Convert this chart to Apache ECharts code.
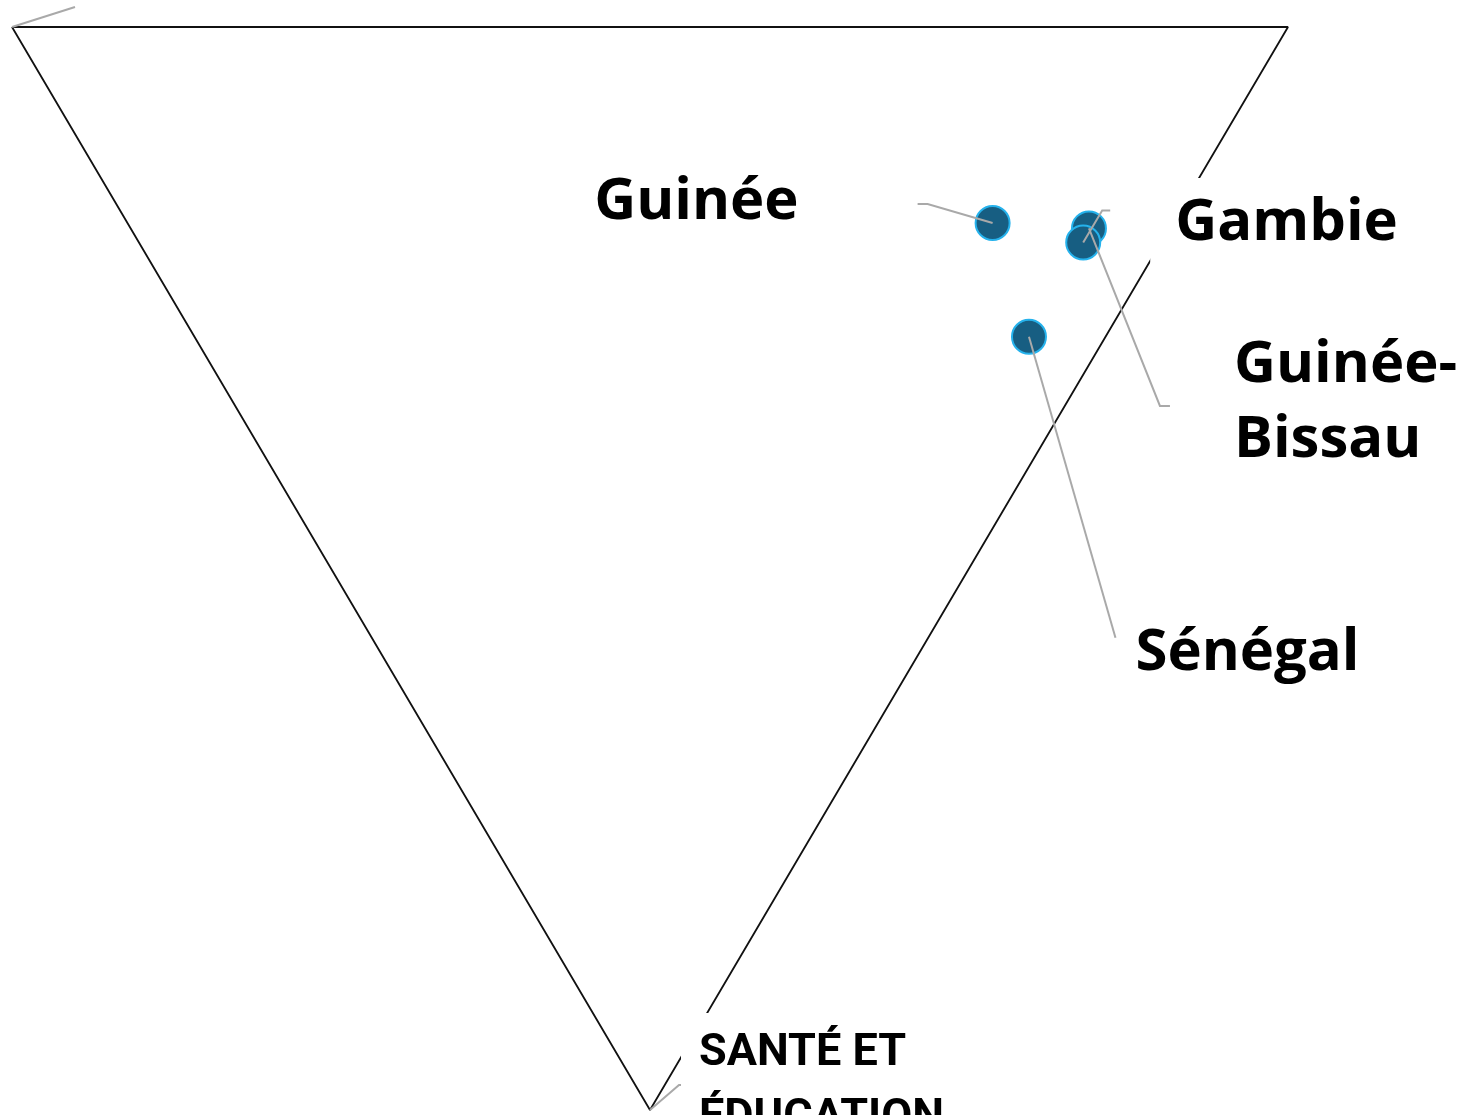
<!DOCTYPE html>
<html>
<head>
<meta charset="utf-8">
<script src="https://cdn.jsdelivr.net/npm/echarts@6/dist/echarts.min.js"></script>
<style>
  html, body { margin: 0; padding: 0; background: #fff; }
  #chart { width: 1470px; height: 1115px; }
</style>
</head>
<body>
<div id="chart"></div>
<script>
// ---- Data (ternary shares; component C = "SANTÉ ET ÉDUCATION") ----
const countries = ['Guinée', 'Guinée-Bissau', 'Gambie', 'Sénégal'];
const shareA = [0.141, 0.063, 0.061, 0.060];   // top-left vertex component
const shareB = [0.678, 0.751, 0.740, 0.654];   // top-right vertex component
const shareC = [0.181, 0.186, 0.199, 0.286];   // bottom vertex: Santé et Éducation

// Ternary vertices (pure components) and their labels (only the bottom one is visible)
const vertexA = [1, 0, 0];
const vertexB = [0, 1, 0];
const vertexC = [0, 0, 1];
const vertexNames = [null, null, 'SANTÉ ET\nÉDUCATION'];

// ---- Projection of ternary shares onto the plane ----
function toXY(a, b, c) {
  const s = a + b + c;
  return [(b + 0.5 * c) / s, 1 - c / s];
}

const vertices = [vertexA, vertexB, vertexC];
const triangle = [vertexA, vertexB, vertexC, vertexA].map(v => toXY(v[0], v[1], v[2]));
const points = countries.map((n, i) => toXY(shareA[i], shareB[i], shareC[i]).concat([i]));
const vertexPts = vertices.map((v, i) => toXY(v[0], v[1], v[2]).concat([i]));

// ---- Label layout (pixel offsets from each point) ----
const countryLabelLayout = [
  { path: [[-65, -19], [-75, -19]], tx: -194, ty: -21, align: 'right' },
  { path: [[71, 177.5], [81, 177.5]], tx: 145, ty: 175, align: 'left' },
  { path: [[19, -32], [27, -32]], tx: 92, ty: -11, align: 'left', pad: [16, 10, 0, 25] },
  { path: [[86.5, 301]], tx: 106.5, ty: 317, align: 'left' }
];
const countryLabelText = ['Guinée', 'Guinée-\nBissau', 'Gambie', 'Sénégal'];
const vertexLabelLayout = [
  { path: [[63, -20]] },
  null,
  { path: [[29, -25], [39, -25]], tx: 49, ty: -27, pad: [5, 12, 12, 18] }
];

function boxPos(x, y, pad, align) {
  // convert a text anchor (text's own left/right & middle) into the padded box anchor
  if (!pad) return [x, y];
  const bx = align === 'right' ? x + pad[1] : x - pad[3];
  const by = y + (pad[2] - pad[0]) / 2;
  return [bx, by];
}

const chart = echarts.init(document.getElementById('chart'), null, { renderer: 'canvas' });

const LINE_COLOR = '#a9a9a9';

chart.setOption({
  animation: false,
  backgroundColor: '#ffffff',
  grid: { left: 12, right: 182, top: 27, bottom: 5 },
  xAxis: { type: 'value', min: 0, max: 1, show: false },
  yAxis: { type: 'value', min: 0, max: 1, show: false },
  series: [
    {
      type: 'line',
      data: triangle,
      symbol: 'none',
      z: 1,
      silent: true,
      lineStyle: { color: '#111', width: 1.8 }
    },
    {
      type: 'scatter',
      data: points,
      z: 2,
      symbolSize: 34,
      itemStyle: { color: '#175e82', borderColor: '#25b2ec', borderWidth: 2, opacity: 1 }
    },
    {
      type: 'custom',
      data: points,
      z: 3,
      clip: false,
      encode: { x: 0, y: 1 },
      renderItem: function (params, api) {
        const i = params.dataIndex;
        const p = api.coord([api.value(0), api.value(1)]);
        const L = countryLabelLayout[i];
        const pts = [p].concat(L.path.map(o => [p[0] + o[0], p[1] + o[1]]));
        const bp = boxPos(p[0] + L.tx, p[1] + L.ty, L.pad, L.align);
        return {
          type: 'group',
          children: [
            { type: 'polyline', shape: { points: pts }, style: { stroke: LINE_COLOR, lineWidth: 2, fill: null }, z2: 1 },
            {
              type: 'text', z2: 2,
              style: {
                text: countryLabelText[i],
                x: bp[0], y: bp[1],
                align: L.align, verticalAlign: 'middle',
                font: 'bold 58px "Open Sans", "Noto Sans", sans-serif',
                lineHeight: 75,
                fill: '#000',
                backgroundColor: L.pad ? '#fff' : null,
                padding: L.pad || 0
              }
            }
          ]
        };
      }
    },
    {
      type: 'custom',
      data: vertexPts,
      z: 3,
      clip: false,
      encode: { x: 0, y: 1 },
      renderItem: function (params, api) {
        const i = params.dataIndex;
        const L = vertexLabelLayout[i];
        if (!L) return null;
        const p = api.coord([api.value(0), api.value(1)]);
        const pts = [p].concat(L.path.map(o => [p[0] + o[0], p[1] + o[1]]));
        const children = [
          { type: 'polyline', shape: { points: pts }, style: { stroke: LINE_COLOR, lineWidth: 2, fill: null }, z2: 1 }
        ];
        if (vertexNames[i]) {
          const bp = boxPos(p[0] + L.tx, p[1] + L.ty, L.pad, 'left');
          children.push({
            type: 'text', z2: 2,
            style: {
              text: vertexNames[i],
              x: bp[0], y: bp[1],
              align: 'left', verticalAlign: 'middle',
              font: 'bold 45px Roboto, "Liberation Sans", sans-serif',
              lineHeight: 65,
              fill: '#000',
              backgroundColor: '#fff',
              padding: L.pad
            }
          });
        }
        return { type: 'group', children: children };
      }
    }
  ]
});
</script>
</body>
</html>
